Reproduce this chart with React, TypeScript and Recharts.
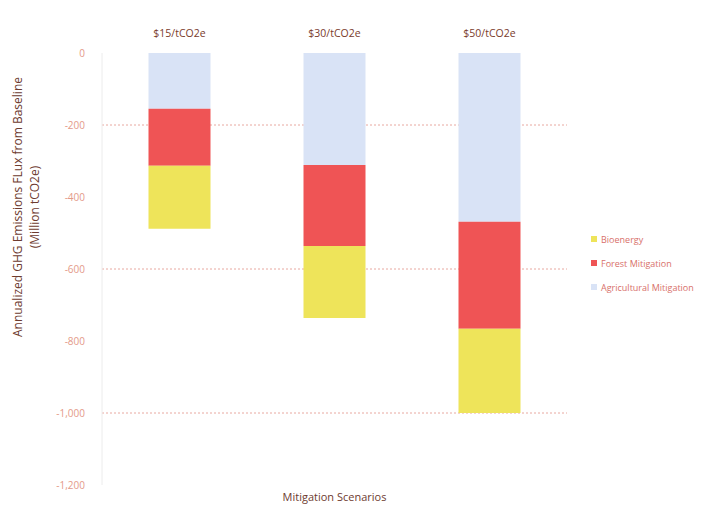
import React from "react";
import {
  BarChart,
  Bar,
  XAxis,
  YAxis,
  CartesianGrid,
} from "recharts";

// Mitigation scenarios (carbon price)
const scenarios = ["$15/tCO2e", "$30/tCO2e", "$50/tCO2e"];

// Annualized flux from baseline, Million tCO2e
const agricultural = [-155, -311, -469];
const forest = [-158, -225, -297];
const bioenergy = [-175, -200, -234];

const yTicks = [0, -200, -400, -600, -800, -1000, -1200];
const gridValues = [-200, -600, -1000];

const COLORS = {
  bio: "#eee45a",
  forest: "#ef5455",
  agri: "#d9e3f6",
};

const legendItems = [
  { name: "Bioenergy", color: COLORS.bio },
  { name: "Forest Mitigation", color: COLORS.forest },
  { name: "Agricultural Mitigation", color: COLORS.agri },
];

const data = scenarios.map((s, i) => ({
  scenario: s,
  agri: agricultural[i],
  forest: forest[i],
  bio: bioenergy[i],
}));

const font = "'Open Sans', 'Liberation Sans', sans-serif";

function LegendBox() {
  return (
    <div
      style={{
        position: "absolute",
        left: 591,
        top: 227,
        fontFamily: font,
        fontSize: 9,
        color: "#d8706a",
      }}
    >
      {legendItems.map((item) => (
        <div
          key={item.name}
          style={{ display: "flex", alignItems: "center", height: 24, whiteSpace: "nowrap" }}
        >
          <span
            style={{
              width: 6,
              height: 6,
              background: item.color,
              marginRight: 4,
              display: "inline-block",
            }}
          />
          {item.name}
        </div>
      ))}
    </div>
  );
}

function YTitle(props: any) {
  const { viewBox } = props;
  const cy = viewBox.y + viewBox.height / 2 - 62;
  return (
    <g fill="#6e3b2f" fontFamily={font} fontSize={12}>
      <text x={17} y={cy} transform={`rotate(-90 17 ${cy})`} textAnchor="middle" dominantBaseline="central">
        Annualized GHG Emissions FLux from Baseline
      </text>
      <text x={34} y={cy} transform={`rotate(-90 34 ${cy})`} textAnchor="middle" dominantBaseline="central">
        (Million tCO2e)
      </text>
    </g>
  );
}

export default function App() {
  return (
    <div style={{ position: "absolute", left: 0, top: 0, width: 728, height: 508, background: "#fff" }}>
      <BarChart
        width={728}
        height={508}
        data={data}
        margin={{ top: 23, right: 161, bottom: 23, left: 0 }}
        barCategoryGap="30%"
      >
        <CartesianGrid
          vertical={false}
          horizontalValues={gridValues}
          stroke="#e8a8a0"
          strokeDasharray="2 2"
        />
        <XAxis
          dataKey="scenario"
          orientation="top"
          height={30}
          axisLine={false}
          tickLine={false}
          tickMargin={10}
          tick={{ fill: "#7a3b2c", fontSize: 10.5, fontFamily: font }}
        />
        <YAxis
          type="number"
          domain={[-1200, 0]}
          ticks={yTicks}
          width={102}
          interval={0}
          axisLine={{ stroke: "#ececec" }}
          tickLine={false}
          tickMargin={11}
          tickFormatter={(v: number) => v.toLocaleString("en-US")}
          tick={{ fill: "#e49a88", fontSize: 10, fontFamily: font }}
          label={<YTitle />}
        />
        <Bar dataKey="agri" stackId="a" fill={COLORS.agri} isAnimationActive={false} />
        <Bar dataKey="forest" stackId="a" fill={COLORS.forest} isAnimationActive={false} />
        <Bar dataKey="bio" stackId="a" fill={COLORS.bio} isAnimationActive={false} />
      </BarChart>
      <LegendBox />
      <div
        style={{
          position: "absolute",
          left: 102,
          width: 465,
          top: 489,
          textAlign: "center",
          fontFamily: font,
          fontSize: 11,
          color: "#6e3b2f",
        }}
      >
        Mitigation Scenarios
      </div>
    </div>
  );
}
